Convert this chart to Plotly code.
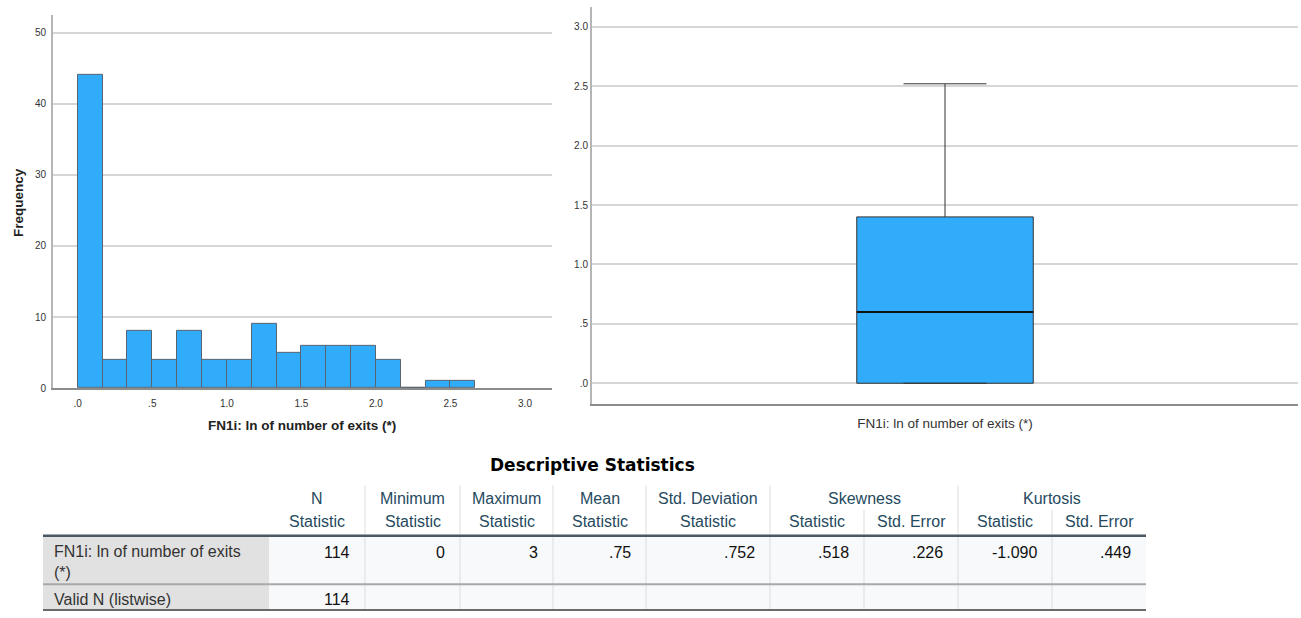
import plotly.graph_objects as go

W, H = 1301, 618

# ---- histogram data: FN1i, ln of number of exits ----
bin_width = 1 / 6
hist_counts = [44, 4, 8, 4, 8, 4, 4, 9, 5, 6, 6, 6, 4, 0, 1, 1]
hist_x_ticks = [0, 0.5, 1.0, 1.5, 2.0, 2.5, 3.0]
hist_x_labels = [".0", ".5", "1.0", "1.5", "2.0", "2.5", "3.0"]
hist_y_ticks = [0, 10, 20, 30, 40, 50]
var_label = "FN1i: ln of number of exits (*)"

# ---- box plot summary ----
box_q1 = 0.0
box_median = 0.60
box_q3 = 1.40
box_low = 0.0
box_high = 2.52
box_y_ticks = [0, 0.5, 1.0, 1.5, 2.0, 2.5, 3.0]
box_y_labels = [".0", ".5", "1.0", "1.5", "2.0", "2.5", "3.0"]

# ---- descriptive statistics table ----
table_title = "Descriptive Statistics"
group_headers = ["N", "Minimum", "Maximum", "Mean", "Std. Deviation", "Skewness", "Kurtosis"]
group_spans = [1, 1, 1, 1, 1, 2, 2]
sub_headers = ["Statistic", "Statistic", "Statistic", "Statistic", "Statistic",
               "Statistic", "Std. Error", "Statistic", "Std. Error"]
row_labels = ["FN1i: ln of number of exits<br>(*)", "Valid N (listwise)"]
row_values = [
    ["114", "0", "3", ".75", ".752", ".518", ".226", "-1.090", ".449"],
    ["114", "", "", "", "", "", "", "", ""],
]

BLUE = "#30acfa"
ARIAL = "Liberation Sans, Arial, sans-serif"
HEAD = "#264a60"


def px(x):
    return x / W


def py(y):
    return 1 - y / H


fig = go.Figure()

bin_centers = [(i + 0.5) * bin_width for i in range(len(hist_counts))]
fig.add_trace(go.Bar(
    x=bin_centers, y=hist_counts, width=bin_width,
    marker=dict(color=BLUE, line=dict(color="#5a6470", width=1)),
    xaxis="x", yaxis="y", hoverinfo="skip", showlegend=False,
))

fig.add_trace(go.Box(
    x=[var_label], q1=[box_q1], median=[box_median], q3=[box_q3],
    lowerfence=[box_low], upperfence=[box_high],
    fillcolor=BLUE, line=dict(color="#333333", width=1),
    whiskerwidth=0.47, xaxis="x2", yaxis="y2",
    hoverinfo="skip", showlegend=False,
))

tick_font = dict(family=ARIAL, size=10, color="#333333")

fig.update_layout(
    width=W, height=H, margin=dict(l=0, r=0, t=0, b=0),
    paper_bgcolor="white", plot_bgcolor="white",
    bargap=0, boxgap=0.75, boxgroupgap=0,
    xaxis=dict(domain=[px(53), px(552)], range=[-0.166, 3.181], anchor="y",
               tickvals=hist_x_ticks, ticktext=hist_x_labels,
               showgrid=False, zeroline=False, showline=True,
               linecolor="#8c8c8c", linewidth=2, ticks="",
               ticklabelstandoff=5,
               tickfont=tick_font, fixedrange=True),
    yaxis=dict(domain=[py(392), py(15)], range=[0, 52.5], anchor="x",
               tickvals=hist_y_ticks, showgrid=True, gridcolor="#d6d6d6",
               gridwidth=1.5, zeroline=False, showline=True,
               linecolor="#b5b5b5", linewidth=2, ticks="",
               ticklabelstandoff=3,
               tickfont=tick_font, fixedrange=True),
    xaxis2=dict(domain=[px(592), px(1298)], range=[-0.5, 0.5], anchor="y2",
                type="category", showgrid=False, zeroline=False,
                showline=True, linecolor="#8c8c8c", linewidth=2, ticks="",
                ticklabelstandoff=6,
                tickfont=dict(family=ARIAL, size=13.5, color="#333333"),
                fixedrange=True),
    yaxis2=dict(domain=[py(408), py(7)], range=[-0.175, 3.167], anchor="x2",
                tickvals=box_y_ticks, ticktext=box_y_labels,
                showgrid=True, gridcolor="#d6d6d6", gridwidth=1.5,
                zeroline=False, showline=True, linecolor="#b5b5b5",
                linewidth=2, ticks="", tickfont=tick_font, fixedrange=True),
)

shapes = []
annotations = []

# heavier median line across the box
shapes.append(dict(type="line", xref="x2 domain", yref="y2",
                   x0=0.375, x1=0.625, y0=box_median, y1=box_median,
                   line=dict(color="#111111", width=2)))

# axis titles of the histogram
annotations.append(dict(text="<b>Frequency</b>", x=px(18), y=py(205),
                        xref="paper", yref="paper", textangle=-90,
                        showarrow=False, xanchor="center", yanchor="middle",
                        font=dict(family=ARIAL, size=13.5, color="#222222")))
annotations.append(dict(text="<b>" + var_label + "</b>", x=px(302), y=py(430),
                        xref="paper", yref="paper", showarrow=False,
                        xanchor="center", yanchor="middle",
                        font=dict(family=ARIAL, size=13.5, color="#222222")))

# ---- table ----
col_edges = [43, 269, 365, 460, 553, 646, 770, 864, 958, 1052, 1146]
y_head_top, y_sub_top, y_body_top, y_row_split, y_body_bottom = 490, 515, 541, 590, 616
row_bounds = [(y_body_top, y_row_split), (y_row_split, y_body_bottom)]


def rect(x0, x1, y0, y1, color):
    shapes.append(dict(type="rect", xref="paper", yref="paper",
                       x0=px(x0), x1=px(x1), y0=py(y1), y1=py(y0),
                       fillcolor=color, line=dict(width=0), layer="below"))


def hline(x0, x1, y, color, width):
    shapes.append(dict(type="line", xref="paper", yref="paper",
                       x0=px(x0), x1=px(x1), y0=py(y), y1=py(y),
                       line=dict(color=color, width=width)))


def vline(x, y0, y1, color, width=1):
    shapes.append(dict(type="line", xref="paper", yref="paper",
                       x0=px(x), x1=px(x), y0=py(y0), y1=py(y1),
                       line=dict(color=color, width=width)))


def text(s, x, y, anchor="center", size=16, color="#111111", family=ARIAL):
    annotations.append(dict(text=s, x=px(x), y=py(y), xref="paper", yref="paper",
                            showarrow=False, xanchor=anchor, yanchor="middle",
                            align=anchor if anchor != "center" else "center",
                            font=dict(family=family, size=size, color=color)))


# cell backgrounds
for (r0, r1) in row_bounds:
    rect(col_edges[0], col_edges[1], r0, r1, "#e1e1e1")
    rect(col_edges[1], col_edges[-1], r0, r1, "#f8f9fb")

# vertical separators
for x in col_edges[2:-1]:
    vline(x, y_body_top, y_body_bottom, "#dddddd")
start = 1
for span in group_spans:
    end = start + span
    if end < len(col_edges) - 1:
        vline(col_edges[end], y_head_top, y_body_top, "#dddddd")
    for k in range(start + 1, end):
        vline(col_edges[k], y_sub_top, y_body_top, "#dddddd")
    start = end

# horizontal rules
hline(col_edges[0], col_edges[-1], y_body_top, "#4a5865", 2.5)
hline(col_edges[0], col_edges[-1], y_row_split, "#a9a9a9", 2)
hline(col_edges[0], col_edges[-1], y_body_bottom, "#6a6a6a", 2)

text("<b>" + table_title + "</b>", 592, 470, size=17, color="#000000",
     family="DejaVu Sans, sans-serif")

# header labels
start = 1
for label, span in zip(group_headers, group_spans):
    cx = (col_edges[start] + col_edges[start + span]) / 2
    text(label, cx, 503, color=HEAD)
    start += span
for i, label in enumerate(sub_headers):
    cx = (col_edges[i + 1] + col_edges[i + 2]) / 2
    text(label, cx, 527, color=HEAD)

# body
label_y = [567.5, 605]
value_y = [558, 605]
for r, (label, values) in enumerate(zip(row_labels, row_values)):
    text(label, 52, label_y[r], anchor="left", color="#333333")
    for i, v in enumerate(values):
        if v:
            text(v, col_edges[i + 2] - 13, value_y[r], anchor="right", color="#111111")

fig.update_layout(shapes=shapes, annotations=annotations)

fig.write_html("out.html")
